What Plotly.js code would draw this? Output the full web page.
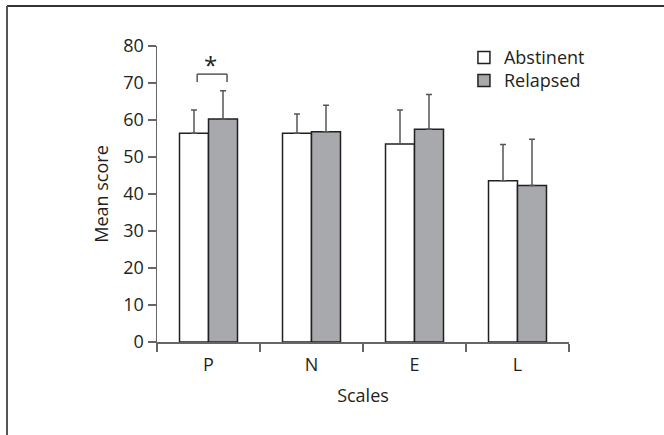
<!DOCTYPE html>
<html>
<head>
<meta charset="utf-8">
<script src="https://cdn.plot.ly/plotly-3.0.1.min.js"></script>
<style>html,body{margin:0;padding:0;background:#fff;}#chart{width:664px;height:435px;}</style>
</head>
<body>
<div id="chart"></div>
<script>
const categories = ["P", "N", "E", "L"];
const abstinentMean = [56.4, 56.4, 53.5, 43.6];
const abstinentSD = [6.3, 5.2, 9.2, 9.8];
const relapsedMean = [60.3, 56.8, 57.5, 42.3];
const relapsedSD = [7.6, 7.2, 9.4, 12.5];
const seriesNames = ["Abstinent", "Relapsed"];
const yTicks = [0, 10, 20, 30, 40, 50, 60, 70, 80];

const font = "'Open Sans', 'Noto Sans', sans-serif";
const textColor = "#231f20";

function errBar(arr) {
  return {type: "data", symmetric: false, array: arr, arrayminus: arr.map(() => 0),
          color: "#555555", thickness: 1.5, width: 3};
}

const traces = [
  {type: "bar", name: seriesNames[0], x: categories, y: abstinentMean, legend: "legend",
   marker: {color: "#ffffff", line: {color: textColor, width: 1.5}},
   error_y: errBar(abstinentSD)},
  {type: "bar", name: seriesNames[1], x: categories, y: relapsedMean, legend: "legend2",
   marker: {color: "#a7a9ac", line: {color: textColor, width: 1.5}},
   error_y: errBar(relapsedSD)}
];

const legendBase = {x: 0.745, xanchor: "left", yanchor: "middle", bgcolor: "rgba(0,0,0,0)",
                    font: {family: font, size: 18, color: textColor}, itemwidth: 30};
const lineStyle = {color: "#555555", width: 1.5};
const layout = {
  width: 664, height: 435,
  margin: {l: 157, r: 95, t: 46, b: 93},
  paper_bgcolor: "#ffffff", plot_bgcolor: "#ffffff",
  font: {family: font, size: 18, color: textColor},
  barmode: "group", bargap: 0.437, bargroupgap: 0,
  showlegend: true,
  legend: Object.assign({}, legendBase, {y: 1 - 11.7/296}),
  legend2: Object.assign({}, legendBase, {y: 1 - 34.7/296}),
  xaxis: {type: "category", showline: true, linecolor: "#666666", linewidth: 1.5,
          ticks: "outside", tickson: "boundaries", ticklen: 8, tickcolor: "#666666", tickwidth: 1.5,
          ticklabelstandoff: 6,
          showgrid: false, zeroline: false, tickfont: {size: 18},
          title: {text: "Scales", font: {size: 18}, standoff: 14}},
  yaxis: {range: [0, 80], tickvals: yTicks, showline: true, linecolor: "#666666", linewidth: 1.5,
          ticks: "outside", ticklen: 8, tickcolor: "#666666", tickwidth: 1.5,
          showgrid: false, zeroline: false, tickfont: {size: 18},
          title: {text: "Mean score", font: {size: 18}, standoff: 10}},
  shapes: [
    {type: "line", xref: "x", yref: "y", x0: -0.11, x1: -0.11, y0: 70.3, y1: 72.4, line: lineStyle},
    {type: "line", xref: "x", yref: "y", x0: -0.11, x1: 0.18, y0: 72.4, y1: 72.4, line: lineStyle},
    {type: "line", xref: "x", yref: "y", x0: 0.18, x1: 0.18, y0: 72.4, y1: 70.3, line: lineStyle},
    {type: "line", xref: "paper", yref: "paper", x0: -150/412, x1: 507/412, y0: 1 + 40/296, y1: 1 + 40/296,
     line: {color: "#333333", width: 2}},
    {type: "line", xref: "paper", yref: "paper", x0: -150/412, x1: -150/412, y0: 1 + 40/296, y1: -93/296,
     line: {color: "#555555", width: 2}}
  ],
  annotations: [
    {xref: "x", yref: "y", x: 0.02, y: 75.0, text: "*", showarrow: false,
     font: {family: font, size: 24, color: textColor}}
  ]
};

Plotly.newPlot("chart", traces, layout, {displayModeBar: false, staticPlot: true});
</script>
</body>
</html>
